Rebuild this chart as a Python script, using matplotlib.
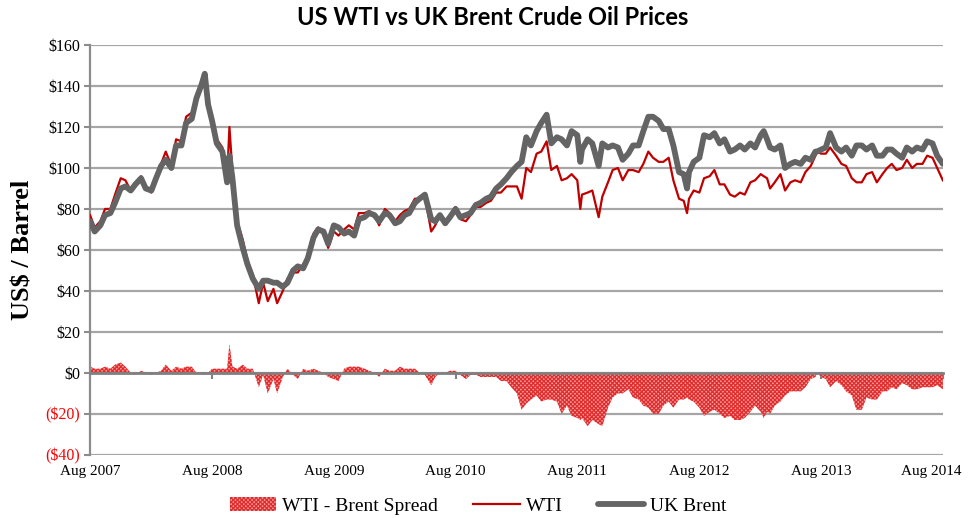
import matplotlib
matplotlib.use("Agg")
import matplotlib.pyplot as plt
import matplotlib.transforms as mtransforms
import numpy as np
import pandas as pd

# approx. semi-monthly readings of the chart (US$ / barrel)
dates = [
    "2007-08-01", "2007-08-15", "2007-09-01", "2007-09-15", "2007-10-01", "2007-10-15",
    "2007-11-01", "2007-11-15", "2007-12-01", "2007-12-15",
    "2008-01-01", "2008-01-15", "2008-02-01", "2008-02-15", "2008-03-01", "2008-03-15",
    "2008-04-01", "2008-04-15", "2008-05-01", "2008-05-15", "2008-06-01", "2008-06-15",
    "2008-07-01", "2008-07-10", "2008-07-20", "2008-08-01", "2008-08-15", "2008-09-01",
    "2008-09-15", "2008-09-22", "2008-10-01", "2008-10-15", "2008-11-01", "2008-11-15",
    "2008-12-01", "2008-12-19",
    "2009-01-01", "2009-01-15", "2009-02-01", "2009-02-12", "2009-03-01", "2009-03-15",
    "2009-04-01", "2009-04-15", "2009-05-01", "2009-05-15", "2009-06-01", "2009-06-15",
    "2009-07-01", "2009-07-15", "2009-08-01", "2009-08-15", "2009-09-01", "2009-09-15",
    "2009-10-01", "2009-10-15", "2009-11-01", "2009-11-15", "2009-12-01", "2009-12-15",
    "2010-01-01", "2010-01-15", "2010-02-01", "2010-02-15", "2010-03-01", "2010-03-15",
    "2010-04-01", "2010-04-15", "2010-05-01", "2010-05-20", "2010-06-01", "2010-06-15",
    "2010-07-01", "2010-07-15", "2010-08-01", "2010-08-15", "2010-09-01", "2010-09-15",
    "2010-10-01", "2010-10-15", "2010-11-01", "2010-11-15", "2010-12-01", "2010-12-15",
    "2011-01-01", "2011-01-15", "2011-02-01", "2011-02-15", "2011-03-01", "2011-03-15",
    "2011-04-01", "2011-04-15", "2011-05-01", "2011-05-15", "2011-06-01", "2011-06-15",
    "2011-07-01", "2011-07-15", "2011-08-01", "2011-08-10", "2011-08-15", "2011-09-01",
    "2011-09-15", "2011-10-04", "2011-10-15", "2011-11-01", "2011-11-15", "2011-12-01",
    "2011-12-15",
    "2012-01-01", "2012-01-15", "2012-02-01", "2012-02-15", "2012-03-01", "2012-03-15",
    "2012-04-01", "2012-04-15", "2012-05-01", "2012-05-15", "2012-06-01", "2012-06-15",
    "2012-06-25", "2012-07-01", "2012-07-15", "2012-08-01", "2012-08-15", "2012-09-01",
    "2012-09-15", "2012-10-01", "2012-10-15", "2012-11-01", "2012-11-15", "2012-12-01",
    "2012-12-15",
    "2013-01-01", "2013-01-15", "2013-02-01", "2013-02-10", "2013-02-20", "2013-03-01",
    "2013-03-15", "2013-04-01", "2013-04-15", "2013-05-01", "2013-05-15", "2013-06-01",
    "2013-06-15", "2013-07-01", "2013-07-15", "2013-07-20", "2013-08-01", "2013-08-15",
    "2013-08-28", "2013-09-15", "2013-10-01", "2013-10-15", "2013-11-01", "2013-11-15",
    "2013-12-01", "2013-12-15",
    "2014-01-01", "2014-01-15", "2014-02-01", "2014-02-15", "2014-03-01", "2014-03-15",
    "2014-04-01", "2014-04-15", "2014-05-01", "2014-05-15", "2014-06-01", "2014-06-15",
    "2014-07-01", "2014-07-15", "2014-08-01",
]

wti = [
    77, 71, 74, 80, 80, 87, 95, 94, 89, 91,
    96, 90, 88, 95, 102, 108, 101, 114, 113, 125, 127, 134,
    141, 145, 131, 125, 114, 110, 95, 120, 98, 74, 65, 55, 48, 34,
    44, 35, 41, 34, 40, 46, 49, 49, 53, 57, 68, 71,
    69, 61, 69, 67, 70, 72, 70, 78, 78, 79, 77, 72,
    80, 78, 74, 77, 79, 80, 85, 85, 86, 69, 72, 77,
    73, 77, 81, 75, 74, 77, 81, 81, 83, 84, 88, 88,
    91, 91, 91, 85, 100, 98, 107, 108, 113, 99, 101, 94,
    95, 97, 94, 80, 87, 88, 89, 76, 86, 93, 99, 100, 94,
    99, 99, 98, 102, 108, 105, 103, 103, 105, 94, 85, 84,
    78, 85, 89, 88, 95, 96, 99, 92, 92, 87, 86, 88, 87,
    93, 94, 97, 96, 95, 90, 93, 97, 89, 93, 94, 93,
    98, 101, 106, 108, 107, 107, 110, 106, 102, 101, 95, 93, 93, 97,
    98, 93, 97, 100, 102, 99, 100, 104, 100, 102, 102, 106,
    105, 100, 94,
]

brent = [
    74, 69, 72, 77, 78, 83, 90, 91, 89, 92,
    95, 90, 89, 95, 101, 104, 100, 111, 111, 122, 124, 134,
    141, 146, 131, 123, 112, 108, 93, 106, 95, 72, 61, 53, 46, 41,
    45, 45, 44, 44, 42, 44, 50, 52, 51, 56, 66, 70,
    69, 63, 72, 71, 68, 69, 67, 75, 76, 78, 77, 74,
    78, 77, 73, 74, 77, 78, 83, 85, 87, 75, 74, 77,
    73, 76, 80, 76, 77, 78, 82, 83, 85, 86, 90, 92,
    95, 98, 101, 103, 115, 111, 118, 122, 126, 112, 115, 114,
    111, 118, 116, 103, 109, 114, 112, 101, 112, 110, 111, 110, 104,
    107, 111, 111, 118, 125, 125, 123, 119, 119, 111, 98, 97,
    90, 98, 103, 105, 116, 115, 117, 112, 114, 108, 109, 111, 109,
    112, 110, 116, 118, 114, 110, 109, 111, 100, 102, 103, 102,
    105, 104, 108, 108, 109, 110, 117, 110, 108, 110, 106, 111, 111, 109,
    111, 106, 106, 109, 109, 107, 105, 110, 108, 110, 109, 113,
    112, 106, 102,
]

assert len(dates) == len(wti) == len(brent)

x = pd.to_datetime(dates)
wti = np.array(wti, dtype=float)
brent = np.array(brent, dtype=float)
spread = wti - brent

fig, ax = plt.subplots(figsize=(9.68, 5.18), dpi=100)
fig.subplots_adjust(left=0.093, right=0.974, top=0.913, bottom=0.122)

plt.rcParams['hatch.linewidth'] = 0.9
ax.fill_between(x, spread, 0, facecolor='#f29c9c', edgecolor='#e02c2c',
                hatch='xxxxxxxx', linewidth=0, label='WTI - Brent Spread', zorder=2)
ax.plot(x, wti, color='#c00000', linewidth=1.6, label='WTI', zorder=3)
ax.plot(x, brent, color='#646464', linewidth=4.2, label='UK Brent', zorder=4,
        solid_capstyle='round')

ax.set_ylim(-40, 160)
ax.set_xlim(pd.Timestamp("2007-08-01"), pd.Timestamp("2014-08-01"))

# axes/spines first: moving a spine resets the ticks
for s in ['top', 'right']:
    ax.spines[s].set_visible(False)
ax.spines['left'].set_color('#8c8c8c')
ax.spines['left'].set_linewidth(1.6)
ax.spines['bottom'].set_position(('data', 0))
ax.spines['bottom'].set_color('#808080')
ax.spines['bottom'].set_linewidth(2)
ax.spines['bottom'].set_zorder(5)
ax.tick_params(axis='y', length=4, width=1.5, color='#8c8c8c', pad=3)
ax.tick_params(axis='x', length=4, width=1.5, color='#808080', pad=62)

ax.yaxis.grid(True, color='#a6a6a6', linewidth=1.6)
ax.set_axisbelow(True)

yt = np.arange(-40, 161, 20)
ax.set_yticks(yt)
ylabels = [f"${v}" if v >= 0 else f"(${-v})" for v in yt]
ax.set_yticklabels(ylabels, fontfamily='Liberation Serif', fontsize=11.5)
for lab, v in zip(ax.get_yticklabels(), yt):
    if v < 0:
        lab.set_color('#ff0000')

xt = pd.to_datetime([f"{y}-08-01" for y in range(2007, 2015)])
ax.set_xticks(xt)
ax.set_xticklabels([f"Aug {y}" for y in range(2007, 2015)],
                   fontfamily='Liberation Serif', fontsize=11)
# keep the last label inside the chart, as the original does
last = ax.get_xticklabels()[-1]
last.set_transform(last.get_transform() +
                   mtransforms.ScaledTranslation(-0.12, 0, fig.dpi_scale_trans))

ax.set_ylabel('US$ / Barrel', fontfamily='Liberation Serif', fontweight='bold',
              fontsize=19, labelpad=8)
fig.text(0.509, 0.966, 'US WTI vs UK Brent Crude Oil Prices', fontfamily='Lato',
         fontweight='bold', fontsize=17, ha='center', va='center')

handles, labels = ax.get_legend_handles_labels()
fig.legend(handles, labels, loc='lower center', bbox_to_anchor=(0.494, -0.028),
           ncol=3, frameon=False, prop={'family': 'Liberation Serif', 'size': 14},
           handlelength=2.4, handletextpad=0.3, columnspacing=1.8)

fig.savefig('out.png', dpi=100)
